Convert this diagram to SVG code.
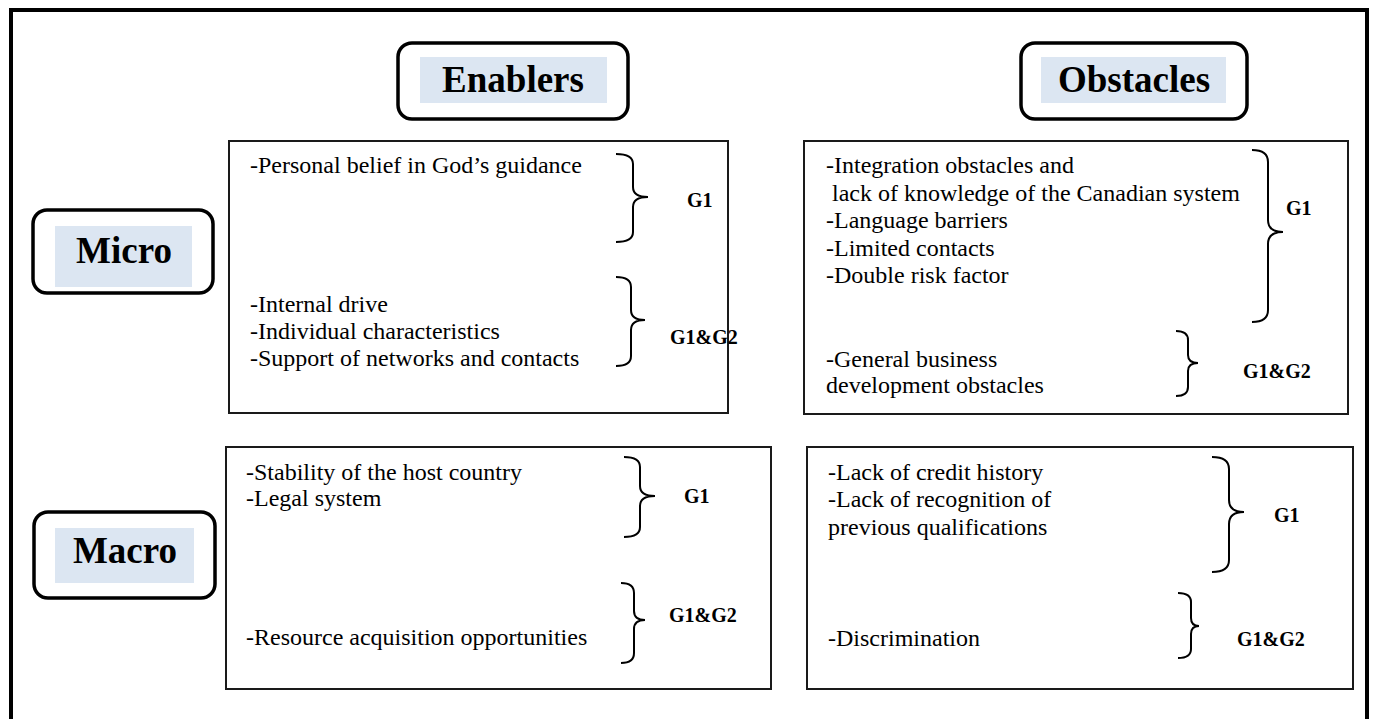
<svg xmlns="http://www.w3.org/2000/svg" width="1373" height="719" viewBox="0 0 1373 719">
<style>
.frame{fill:none;stroke:#000;stroke-width:4}
.title{fill:#fff;stroke:#000;stroke-width:3.5}
.hl{fill:#DCE6F2}
.ttl{font-family:"Liberation Serif",serif;font-weight:bold;font-size:37px;fill:#000}
.box{fill:#fff;stroke:#1a1a1a;stroke-width:2}
.t{font-family:"Liberation Serif",serif;font-size:24px;fill:#000}
.g{font-family:"Liberation Serif",serif;font-weight:bold;font-size:20px;fill:#000}
.br{fill:none;stroke:#000;stroke-width:2}
</style>
<rect width="1373" height="719" fill="#fff"/>
<rect class="frame" x="11" y="10" width="1356" height="730"/>

<g id="enablers-header">
<rect class="title" x="398" y="43" width="230" height="76" rx="14"/>
<rect class="hl" x="420" y="57" width="187" height="46"/>
<text class="ttl" x="513" y="92" text-anchor="middle">Enablers</text>
</g>
<g id="obstacles-header">
<rect class="title" x="1021" y="43" width="226" height="76" rx="14"/>
<rect class="hl" x="1041" y="57" width="185" height="46"/>
<text class="ttl" x="1134" y="92" text-anchor="middle">Obstacles</text>
</g>
<g id="micro-header">
<rect class="title" x="33" y="210" width="180" height="83" rx="14"/>
<rect class="hl" x="55" y="226" width="137" height="61"/>
<text class="ttl" x="124" y="263" text-anchor="middle">Micro</text>
</g>
<g id="macro-header">
<rect class="title" x="34" y="512" width="181" height="86" rx="14"/>
<rect class="hl" x="55" y="528" width="139" height="55"/>
<text class="ttl" x="125" y="563" text-anchor="middle">Macro</text>
</g>

<g id="micro-enablers">
<rect class="box" x="229" y="141" width="499" height="272"/>
<text class="t" x="250" y="173">-Personal belief in God’s guidance</text>
<text class="t" x="250" y="312">-Internal drive</text>
<text class="t" x="250" y="339">-Individual characteristics</text>
<text class="t" x="250" y="366">-Support of networks and contacts</text>
<path class="br" d="M616 154 Q633 154 633 164 L633 187 Q633 197 648 197 Q633 197 633 207 L633 232 Q633 242 616 242"/>
<text class="g" x="687" y="207">G1</text>
<path class="br" d="M616 277 Q631 277 631 287 L631 310 Q631 320 645 320 Q631 320 631 330 L631 356 Q631 366 616 366"/>
<text class="g" x="670" y="344">G1&amp;G2</text>
</g>

<g id="micro-obstacles">
<rect class="box" x="804" y="141" width="544" height="273"/>
<text class="t" x="826" y="173">-Integration obstacles and</text>
<text class="t" x="832" y="201">lack of knowledge of the Canadian system</text>
<text class="t" x="826" y="228">-Language barriers</text>
<text class="t" x="826" y="256">-Limited contacts</text>
<text class="t" x="826" y="283">-Double risk factor</text>
<path class="br" d="M1252 150 Q1268 150 1268 162 L1268 220 Q1268 232 1283 232 Q1268 232 1268 244 L1268 310 Q1268 322 1252 322"/>
<text class="g" x="1286" y="215">G1</text>
<text class="t" x="826" y="367">-General business</text>
<text class="t" x="826" y="393">development obstacles</text>
<path class="br" d="M1176 331 Q1188 331 1188 340 L1188 355 Q1188 363 1198 363 Q1188 363 1188 371 L1188 387 Q1188 396 1176 396"/>
<text class="g" x="1243" y="378">G1&amp;G2</text>
</g>

<g id="macro-enablers">
<rect class="box" x="226" y="447" width="545" height="242"/>
<text class="t" x="246" y="480">-Stability of the host country</text>
<text class="t" x="246" y="506">-Legal system</text>
<text class="t" x="246" y="645">-Resource acquisition opportunities</text>
<path class="br" d="M624 457 Q640 457 640 467 L640 486 Q640 496 655 496 Q640 496 640 506 L640 527 Q640 537 624 537"/>
<text class="g" x="684" y="503">G1</text>
<path class="br" d="M621 583 Q634 583 634 593 L634 611 Q634 620 645 620 Q634 620 634 629 L634 653 Q634 663 621 663"/>
<text class="g" x="669" y="622">G1&amp;G2</text>
</g>

<g id="macro-obstacles">
<rect class="box" x="807" y="447" width="546" height="242"/>
<text class="t" x="828" y="480">-Lack of credit history</text>
<text class="t" x="828" y="507">-Lack of recognition of</text>
<text class="t" x="828" y="535">previous qualifications</text>
<text class="t" x="828" y="646">-Discrimination</text>
<path class="br" d="M1212 457 Q1229 457 1229 469 L1229 500 Q1229 512 1244 512 Q1229 512 1229 524 L1229 560 Q1229 572 1212 572"/>
<text class="g" x="1274" y="522">G1</text>
<path class="br" d="M1178 593 Q1191 593 1191 602 L1191 618 Q1191 626 1199 626 Q1191 626 1191 634 L1191 649 Q1191 658 1178 658"/>
<text class="g" x="1237" y="646">G1&amp;G2</text>
</g>

<g id="connectors"></g>
</svg>
